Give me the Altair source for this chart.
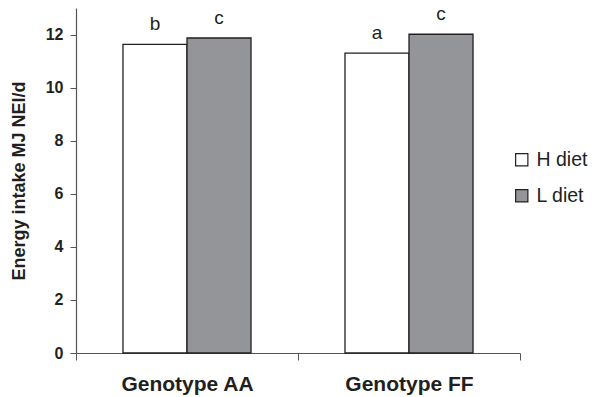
import altair as alt
import pandas as pd

genotypes = ["Genotype AA", "Genotype AA", "Genotype FF", "Genotype FF"]
diets = ["H diet", "L diet", "H diet", "L diet"]
values = [11.63, 11.87, 11.30, 12.01]
letters = ["b", "c", "a", "c"]

df = pd.DataFrame({"genotype": genotypes, "diet": diets, "value": values, "letter": letters})

FONT = "Liberation Sans"
INK = "#231f20"

x = alt.X("genotype:N", title=None,
          scale=alt.Scale(paddingInner=0, paddingOuter=0),
          axis=alt.Axis(labelAngle=0, labelFont=FONT, labelFontSize=21, labelFontWeight="bold",
                        labelColor=INK, labelBaseline="alphabetic", labelPadding=30,
                        tickBand="extent", tickSize=7,
                        domainColor="#555", tickColor="#555", domainWidth=1.2))
xo = alt.XOffset("diet:N", scale=alt.Scale(paddingInner=0, paddingOuter=0.734))
y = alt.Y("value:Q", title="Energy intake MJ NEl/d",
          scale=alt.Scale(domain=[0, 13], nice=False),
          axis=alt.Axis(values=[0, 2, 4, 6, 8, 10, 12], grid=False, labelFont=FONT, labelFontSize=16,
                        labelFontWeight="bold", labelColor=INK, tickSize=6, labelPadding=7,
                        titleFont=FONT, titleFontSize=18, titleFontWeight="bold", titleColor=INK,
                        titlePadding=17, domainColor="#555", tickColor="#555", domainWidth=1.2))

bars = alt.Chart(df).mark_bar(stroke=INK, strokeWidth=1.3).encode(
    x=x, xOffset=xo, y=y,
    fill=alt.Fill("diet:N", title=None,
                  scale=alt.Scale(domain=["H diet", "L diet"], range=["#ffffff", "#939598"]),
                  legend=alt.Legend(orient="none", legendX=436, legendY=142, symbolType="square",
                                    symbolSize=150, symbolStrokeColor=INK, symbolStrokeWidth=1.2,
                                    labelFont=FONT, labelFontSize=19.5, labelColor=INK,
                                    labelOffset=5, rowPadding=15)),
)

text = alt.Chart(df).mark_text(baseline="alphabetic", dy=-14, font=FONT, fontSize=19, color=INK).encode(
    x=x, xOffset=xo, y=y, text="letter:N")

chart = (bars + text).properties(
    width=444, height=345,
    autosize=alt.AutoSizeParams(type="none"),
    padding={"left": 68, "top": 0, "right": 71, "bottom": 44},
).configure_view(stroke=None)

chart.save("out.html", embed_options={"renderer": "svg", "actions": False})
